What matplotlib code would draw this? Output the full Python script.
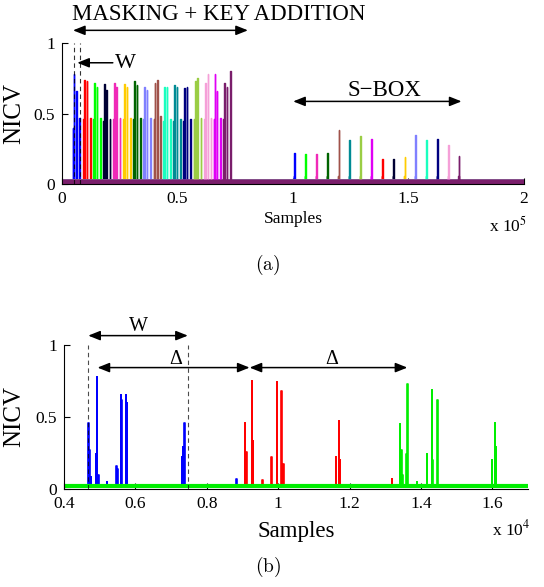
import matplotlib
matplotlib.use("Agg")
import matplotlib.pyplot as plt
from matplotlib.patches import ArrowStyle

plt.rcParams['font.family'] = ['Liberation Serif', 'DejaVu Serif']
plt.rcParams['mathtext.fontset'] = 'stix'

# ---- (a) full trace: 16 key bytes, masking phase then s-box phase ----
byte_colors = ['#0000ff', '#ff0000', '#00ff00', '#000033', '#f02ab8', '#ffcc00',
               '#006400', '#8080ff', '#a0524a', '#1affbf', '#008b94', '#000080',
               '#9acd44', '#f5a0d8', '#e000f5', '#7a1e6b']
mask_pos = [5190, 9810, 14140, 18330, 22660, 27130, 31460, 35790,
            40260, 44440, 48770, 53100, 57720, 62190, 66230, 70420]
mask_offsets = [-450, 0, 1000, 2450]
mask_heights = [[0.40, 0.78, 0.66, 0.47], [0.46, 0.74, 0.73, 0.47],
                [0.46, 0.72, 0.69, 0.47], [0.45, 0.71, 0.67, 0.46],
                [0.46, 0.72, 0.69, 0.47], [0.46, 0.71, 0.69, 0.47],
                [0.46, 0.73, 0.70, 0.47], [0.46, 0.69, 0.67, 0.47],
                [0.46, 0.72, 0.74, 0.48], [0.45, 0.69, 0.69, 0.46],
                [0.45, 0.70, 0.69, 0.46], [0.45, 0.68, 0.69, 0.46],
                [0.46, 0.73, 0.75, 0.47], [0.46, 0.72, 0.78, 0.47],
                [0.46, 0.78, 0.66, 0.47], [0.46, 0.72, 0.69, 0.80]]
sbox_order = [0, 2, 4, 6, 8, 10, 12, 14, 1, 3, 5, 7, 9, 11, 13, 15]
sbox_pos = [100700, 105500, 110200, 115000, 119900, 124500, 129300, 134100,
            138800, 143600, 148400, 153100, 157900, 162600, 167400, 172000]
sbox_h = [0.22, 0.21, 0.21, 0.22, 0.38, 0.31, 0.34, 0.32,
          0.18, 0.18, 0.19, 0.35, 0.31, 0.32, 0.28, 0.20]
sbox_foot = 0.06
w_lines_a = [5190, 7800]

# ---- (b) zoom on three bytes ----
blue_spikes = [(4686, 0.46), (4720, 0.27), (4760, 0.08), (4894, 0.24), (4930, 0.78),
               (4960, 0.10), (5202, 0.05), (5470, 0.16), (5500, 0.14), (5594, 0.65),
               (5615, 0.62), (5742, 0.65), (5770, 0.60), (7302, 0.22), (7340, 0.29),
               (7375, 0.46), (8832, 0.07)]
red_spikes = [(9067, 0.46), (9110, 0.26), (9263, 0.75), (9300, 0.33), (9560, 0.06),
              (9820, 0.22), (9963, 0.74), (10093, 0.68), (10150, 0.17),
              (11616, 0.22), (11700, 0.47), (11730, 0.20), (13185, 0.07)]
green_spikes = [(13409, 0.45), (13450, 0.27), (13490, 0.10), (13590, 0.24),
                (13625, 0.73), (13894, 0.05), (14165, 0.24), (14305, 0.69),
                (14330, 0.20), (14463, 0.62), (15986, 0.20), (16078, 0.46),
                (16100, 0.29)]
w_lines_b = [4680, 7470]
delta_marks = [4940, 9200, 13620]


def trace(spikes, x0, x1, base, d):
    xs, ys = [x0], [base]
    for p, h in sorted(spikes):
        xs += [p - d, p - d, p + d, p + d]
        ys += [base, h, h, base]
    xs.append(x1)
    ys.append(base)
    return xs, ys


def arrow(ax, x0, x1, y, style):
    ax.annotate('', xy=(x1, y), xytext=(x0, y), annotation_clip=False,
                arrowprops=dict(arrowstyle=style, color='k', lw=1.1,
                                shrinkA=0, shrinkB=0, mutation_scale=13))


dbl = ArrowStyle('<|-|>', head_length=0.55, head_width=0.22)
one = ArrowStyle('-|>', head_length=0.55, head_width=0.22)

fig = plt.figure(figsize=(5.44, 5.87), dpi=100)

# ================= (a) =================
ax1 = fig.add_axes([0.114, 0.6865, 0.849, 0.2402])
for i, col in enumerate(byte_colors):
    spikes = [(mask_pos[i] + o, h) for o, h in zip(mask_offsets, mask_heights[i])]
    k = sbox_order.index(i)
    spikes.append((sbox_pos[k] - 300, sbox_foot))
    spikes.append((sbox_pos[k], sbox_h[k]))
    xs, ys = trace(spikes, 0, 200000, 0.025, 90)
    ax1.plot(xs, ys, color=col, lw=1.0)
ax1.plot([0, 200000], [0.012, 0.012], color=byte_colors[-1], lw=3.2)

for xv in w_lines_a:
    ax1.plot([xv, xv], [0, 1], color='k', lw=0.8, dashes=(4, 3), alpha=0.8)

ax1.set_xlim(0, 200000)
ax1.set_ylim(0, 1)
ax1.set_xticks([0, 50000, 100000, 150000, 200000])
ax1.set_xticklabels(['0', '0.5', '1', '1.5', '2'])
ax1.set_yticks([0, 0.5, 1])
ax1.set_yticklabels(['0', '0.5', '1'])
ax1.tick_params(direction='in', length=4, labelsize=12.5, pad=5)
ax1.spines['top'].set_visible(False)
ax1.spines['right'].set_visible(False)
ax1.set_ylabel('NICV', fontsize=18)
ax1.yaxis.set_label_coords(-0.08, 0.5)
ax1.set_xlabel('Samples', fontsize=12.5)
ax1.xaxis.set_label_coords(0.5, -0.19)

arrow(ax1, 4760, 80500, 1.09, dbl)
ax1.text(4300, 1.2, 'MASKING + KEY ADDITION', fontsize=16.5, ha='left', va='center',
         clip_on=False)
arrow(ax1, 22000, 6600, 0.86, one)
ax1.text(22800, 0.855, 'W', fontsize=16, ha='left', va='center')
arrow(ax1, 100100, 173000, 0.586, dbl)
ax1.text(139800, 0.66, 'S\u2212BOX', fontsize=16.5, ha='center', va='center')

fig.text(527 / 544, 1 - 226 / 587, 'x 10$^5$', fontsize=12.5, ha='right', va='center')
fig.text(268 / 544, 1 - 265 / 587, r'$\mathrm{(a)}$', fontsize=14, ha='center',
         va='center', math_fontfamily='cm')

# ================= (b) =================
ax2 = fig.add_axes([0.1176, 0.167, 0.853, 0.2453])
xs, ys = trace(blue_spikes, 4000, 17000, 0.025, 8)
ax2.plot(xs, ys, color='#0000ff', lw=1.2)
xs, ys = trace(red_spikes, 4000, 17000, 0.025, 8)
ax2.plot(xs, ys, color='#ff0000', lw=1.2)
xs, ys = trace(green_spikes, 4000, 17000, 0.018, 8)
ax2.plot(xs, ys, color='#00ee00', lw=1.2)
ax2.plot([4000, 17000], [0.018, 0.018], color='#00ee00', lw=3)

for xv in w_lines_b:
    ax2.plot([xv, xv], [0, 1], color='k', lw=0.8, dashes=(4, 3), alpha=0.7)

ax2.set_xlim(4000, 17000)
ax2.set_ylim(0, 1)
ax2.set_xticks([4000, 6000, 8000, 10000, 12000, 14000, 16000])
ax2.set_xticklabels(['0.4', '0.6', '0.8', '1', '1.2', '1.4', '1.6'])
ax2.set_yticks([0, 0.5, 1])
ax2.set_yticklabels(['0', '0.5', '1'])
ax2.tick_params(direction='in', length=4, labelsize=12.5, pad=5)
ax2.spines['top'].set_visible(False)
ax2.spines['right'].set_visible(False)
ax2.set_ylabel('NICV', fontsize=18)
ax2.yaxis.set_label_coords(-0.084, 0.5)
ax2.set_xlabel('Samples', fontsize=16.5)
ax2.xaxis.set_label_coords(0.5, -0.22)

arrow(ax2, w_lines_b[0], w_lines_b[1], 1.065, dbl)
ax2.text((w_lines_b[0] + w_lines_b[1]) / 2, 1.13, 'W', fontsize=14.5, ha='center',
         va='center', clip_on=False)
arrow(ax2, delta_marks[0], delta_marks[1], 0.843, dbl)
arrow(ax2, delta_marks[1], delta_marks[2], 0.843, dbl)
ax2.text((delta_marks[0] + delta_marks[1]) / 2 + 50, 0.9, '\u0394', fontsize=14.5,
         ha='center', va='center')
ax2.text((delta_marks[1] + delta_marks[2]) / 2 + 100, 0.9, '\u0394', fontsize=14.5,
         ha='center', va='center')

fig.text(530 / 544, 1 - 529 / 587, 'x 10$^4$', fontsize=12.5, ha='right', va='center')
fig.text(268 / 544, 1 - 567 / 587, r'$\mathrm{(b)}$', fontsize=14, ha='center',
         va='center', math_fontfamily='cm')

fig.savefig('out.png', dpi=100)
